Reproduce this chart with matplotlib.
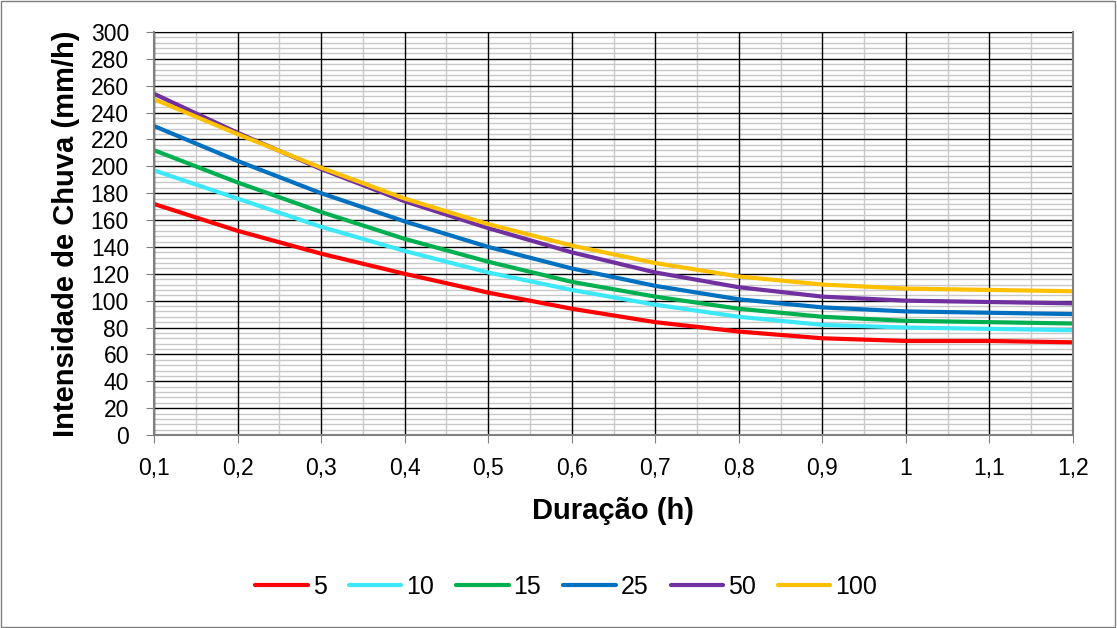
import matplotlib.pyplot as plt
from matplotlib.ticker import MultipleLocator, FuncFormatter
from matplotlib.patches import Rectangle

plt.rcParams['font.family'] = ['Liberation Sans', 'DejaVu Sans']

duracao = [0.1, 0.2, 0.3, 0.4, 0.5, 0.6, 0.7, 0.8, 0.9, 1.0, 1.1, 1.2]
tr_5 = [172, 152, 135, 120, 106, 94, 84, 77, 72, 70, 70, 69]
tr_10 = [197, 176, 155, 137, 121, 108, 97, 88, 82, 80, 79, 78]
tr_15 = [212, 188, 166, 146, 129, 114, 103, 94, 88, 85, 84, 83]
tr_25 = [230, 204, 180, 159, 140, 124, 111, 101, 95, 92, 91, 90]
tr_50 = [254, 225, 198, 174, 154, 136, 121, 110, 103, 100, 99, 98]
tr_100 = [250, 224, 199, 176, 157, 141, 128, 118, 112, 109, 108, 107]

series = [('5', tr_5, '#ff0000'), ('10', tr_10, '#3de8f8'), ('15', tr_15, '#00b050'),
          ('25', tr_25, '#0070c0'), ('50', tr_50, '#7030a0'), ('100', tr_100, '#ffc000')]

fig = plt.figure(figsize=(11.17, 6.28), dpi=100)
ax = fig.add_axes([154 / 1117, 1 - 435 / 628, (1073 - 154) / 1117, (435 - 32) / 628])

for name, vals, col in series:
    ax.plot(duracao, vals, color=col, lw=3, label=name, solid_capstyle='round', zorder=3)

ax.set_xlim(0.1, 1.2)
ax.set_ylim(0, 300)
ax.xaxis.set_major_locator(MultipleLocator(0.1))
ax.xaxis.set_minor_locator(MultipleLocator(0.05))
ax.yaxis.set_major_locator(MultipleLocator(20))
ax.yaxis.set_minor_locator(MultipleLocator(4))
ax.xaxis.set_major_formatter(FuncFormatter(lambda v, p: f'{v:.1f}'.rstrip('0').rstrip('.').replace('.', ',')))

# minor grid below, major grid (black) drawn on top of it
ax.grid(which='minor', color='#c8c8c8', lw=1.0)
ax.set_axisbelow(True)
for xv in ax.get_xticks():
    if 0.1 <= xv <= 1.2:
        ax.axvline(xv, color='black', lw=1.0, zorder=1)
for yv in ax.get_yticks():
    if 0 <= yv <= 300:
        ax.axhline(yv, color='black', lw=1.0, zorder=1)

ax.tick_params(which='minor', length=0)
ax.tick_params(axis='y', which='major', length=6, color='#808080', labelsize=16.5, pad=12)
ax.tick_params(axis='x', which='major', length=6, color='#808080', labelsize=16.5, pad=10)
for s in ['left', 'bottom', 'right']:
    ax.spines[s].set_color('#808080')
    ax.spines[s].set_linewidth(1.5)
    ax.spines[s].set_zorder(4)
ax.spines['top'].set_color('black')

ax.set_xlabel('Duração (h)', fontsize=21, fontweight='bold', labelpad=12)
ax.set_ylabel('Intensidade de Chuva (mm/h)', fontsize=21, fontweight='bold', labelpad=8)

fig.legend(loc='center', bbox_to_anchor=(0.507, 1 - 587 / 628), ncol=6, frameon=False,
           fontsize=18, handlelength=2.1, handletextpad=0.2, columnspacing=0.88)

fig.patches.append(Rectangle((0.001, 0.001), 0.997, 0.997, transform=fig.transFigure,
                             fill=False, edgecolor='#7f7f7f', lw=1))

fig.savefig('out.png', dpi=100)
